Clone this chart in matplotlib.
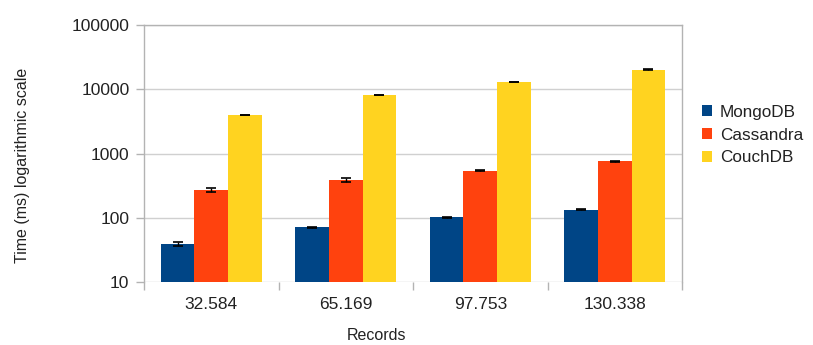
import matplotlib
matplotlib.use("Agg")
import matplotlib.pyplot as plt
from matplotlib.ticker import FixedLocator, NullFormatter, FixedFormatter, NullLocator
from matplotlib.patches import Patch
import numpy as np

plt.rcParams['font.family'] = ['Liberation Sans', 'DejaVu Sans']

# Query times (ms) per record count
records = ["32.584", "65.169", "97.753", "130.338"]
series_names = ["MongoDB", "Cassandra", "CouchDB"]
mongodb = [38.7, 71, 102, 133]
cassandra = [271, 391, 541, 760]
couchdb = [3965, 8075, 12970, 20150]
mongodb_err = [2.5, 2, 2.5, 3]
cassandra_err = [20, 30, 12, 15]
couchdb_err = [60, 60, 200, 300]
colors = ["#004586", "#ff420e", "#ffd320"]
y_ticks = [10, 100, 1000, 10000, 100000]

W, H = 813, 345
fig = plt.figure(figsize=(W / 100, H / 100), dpi=100)
ax = fig.add_axes([144 / W, 1 - 282 / H, 538 / W, 257 / H])

values = [mongodb, cassandra, couchdb]
errors = [mongodb_err, cassandra_err, couchdb_err]
bar_w = 0.25
centers = np.arange(len(records)) + 0.5
for k, (vals, errs, c) in enumerate(zip(values, errors, colors)):
    x = centers + (k - 1) * bar_w
    ax.bar(x, vals, width=bar_w, color=c, zorder=3, bottom=0)
    ax.errorbar(x, vals, yerr=errs, fmt='none', ecolor='black',
                elinewidth=1.0, capsize=3.5, capthick=1.2, zorder=4)

ax.set_yscale('log')
ax.set_ylim(10, 100000)
ax.set_xlim(0, len(records))

grid_c = '#b3b3b3'
ax.yaxis.set_major_locator(FixedLocator(y_ticks))
ax.yaxis.set_major_formatter(FixedFormatter([str(v) for v in y_ticks]))
ax.yaxis.set_minor_locator(NullLocator())
ax.grid(axis='y', color='#d0d0d0', linewidth=1.0, zorder=0)
ax.set_axisbelow(True)

ax.xaxis.set_major_locator(FixedLocator(np.arange(len(records) + 1)))
ax.xaxis.set_major_formatter(NullFormatter())
ax.xaxis.set_minor_locator(FixedLocator(centers))
ax.xaxis.set_minor_formatter(FixedFormatter(records))

ax.tick_params(axis='y', which='major', length=5.5, width=1, color=grid_c,
               pad=5, labelsize=12.5, labelcolor='#222222')
ax.tick_params(axis='x', which='major', length=6, width=1, color=grid_c)
ax.tick_params(axis='x', which='minor', length=0, pad=11,
               labelsize=12.5, labelcolor='#222222')

for side in ['left', 'right', 'top']:
    ax.spines[side].set_color(grid_c)
    ax.spines[side].set_linewidth(1.0)
ax.spines['bottom'].set_visible(False)

fig.text(23 / W, 1 - 165 / H, "Time (ms) logarithmic scale", rotation=90,
         ha='center', va='center', fontsize=11.5, color='#222222')
fig.text(376 / W, 1 - 328 / H, "Records", ha='center', va='top',
         fontsize=11.5, color='#222222')

handles = [Patch(facecolor=c, edgecolor='none') for c in colors]
fig.legend(handles, series_names, loc='center left',
           bbox_to_anchor=(697 / W, 1 - 135 / H), frameon=False,
           fontsize=12.3, handlelength=0.6, handleheight=0.6,
           handletextpad=0.45, labelspacing=0.45, labelcolor='#222222',
           borderaxespad=0, borderpad=0.3)

fig.savefig("out.png", dpi=100)
